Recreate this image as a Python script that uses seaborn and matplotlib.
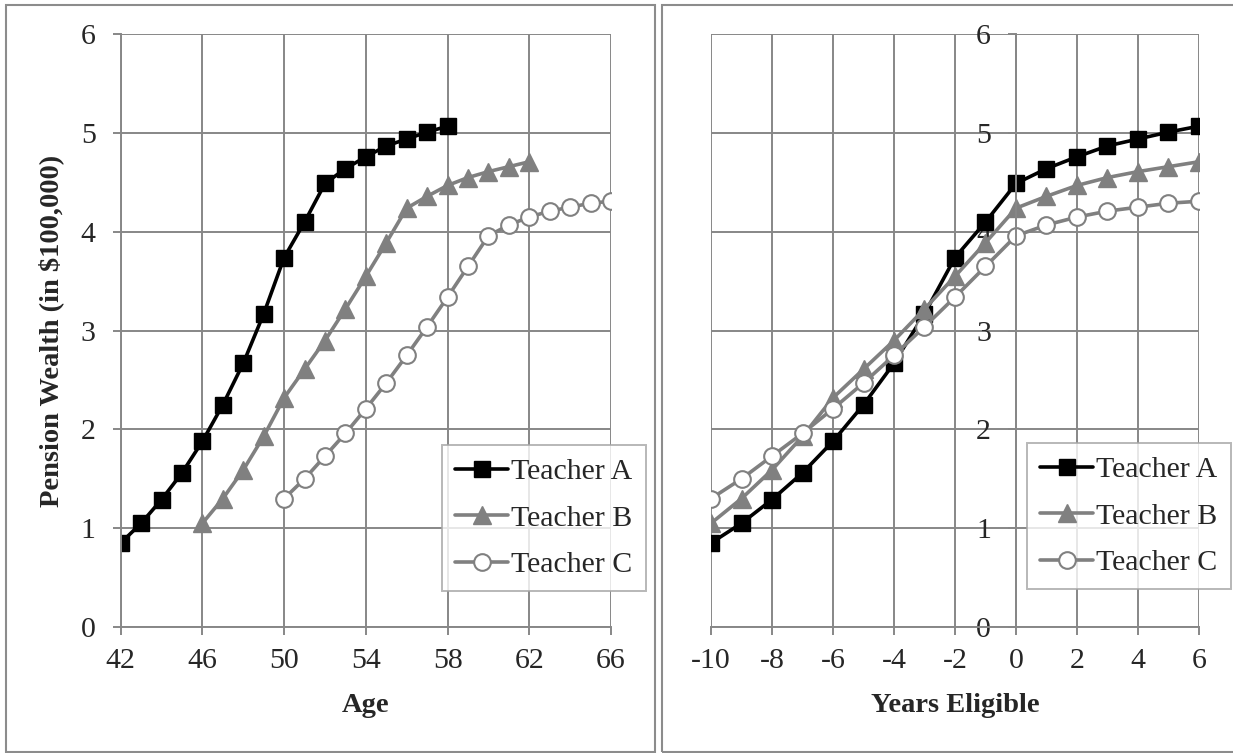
import matplotlib
matplotlib.use("Agg")
import matplotlib.pyplot as plt
from matplotlib.patches import Rectangle
import seaborn as sns

# 数据：三位教师的养老金财富（单位：$100,000）
years_eligible = [-10, -9, -8, -7, -6, -5, -4, -3, -2, -1, 0, 1, 2, 3, 4, 5, 6]
age_a = [42, 43, 44, 45, 46, 47, 48, 49, 50, 51, 52, 53, 54, 55, 56, 57, 58]
age_b = [46, 47, 48, 49, 50, 51, 52, 53, 54, 55, 56, 57, 58, 59, 60, 61, 62]
age_c = [50, 51, 52, 53, 54, 55, 56, 57, 58, 59, 60, 61, 62, 63, 64, 65, 66]

wealth_a = [0.85, 1.05, 1.29, 1.56, 1.88, 2.25, 2.67, 3.17, 3.74, 4.10,
            4.49, 4.64, 4.76, 4.87, 4.94, 5.01, 5.07]
wealth_b = [1.05, 1.30, 1.59, 1.93, 2.32, 2.61, 2.90, 3.22, 3.55, 3.89,
            4.24, 4.36, 4.47, 4.55, 4.61, 4.66, 4.71]
wealth_c = [1.30, 1.50, 1.73, 1.96, 2.21, 2.47, 2.75, 3.04, 3.34, 3.65,
            3.96, 4.07, 4.15, 4.21, 4.25, 4.29, 4.31]

labels = ['Teacher A', 'Teacher B', 'Teacher C']
age_ticks = [42, 46, 50, 54, 58, 62, 66]
year_ticks = [-10, -8, -6, -4, -2, 0, 2, 4, 6]
y_ticks = [0, 1, 2, 3, 4, 5, 6]

# 样式
sns.set_theme(style="white")
plt.rcParams['font.family'] = ['Liberation Serif', 'DejaVu Serif']
grid_grey = '#878787'
line_grey = '#808080'
tick_fs = 21.5
label_fs = 20.5

W, H = 1233, 753
fig = plt.figure(figsize=(W / 100, H / 100), dpi=100)

# 两个面板的外框
fig.patches.append(Rectangle((6 / W, 1 - 752 / H), 649 / W, 747 / H,
                             transform=fig.transFigure, fill=False,
                             edgecolor='#8c8c8c', linewidth=1.5))
fig.patches.append(Rectangle((662 / W, 1 - 752 / H), 575 / W, 747 / H,
                             transform=fig.transFigure, fill=False,
                             edgecolor='#8c8c8c', linewidth=1.5))

ax1 = fig.add_axes([120.7 / W, 1 - 627 / H, 490.3 / W, 592.7 / H])
ax2 = fig.add_axes([711 / W, 1 - 627 / H, 488 / W, 592.7 / H])

series_style = [
    dict(color='black', marker='s', markersize=11.5, markerfacecolor='black',
         markeredgecolor='black', markeredgewidth=1),
    dict(color=line_grey, marker='^', markersize=12.5, markerfacecolor=line_grey,
         markeredgecolor=line_grey, markeredgewidth=1),
    dict(color=line_grey, marker='o', markersize=12, markerfacecolor='white',
         markeredgecolor=line_grey, markeredgewidth=1.5),
]

# 左图：按年龄
for xs, ys, lab, st in zip([age_a, age_b, age_c], [wealth_a, wealth_b, wealth_c],
                           labels, series_style):
    sns.lineplot(x=xs, y=ys, ax=ax1, label=lab, linewidth=2.6, **st)

# 右图：按符合资格年数
for ys, lab, st in zip([wealth_a, wealth_b, wealth_c], labels, series_style):
    sns.lineplot(x=years_eligible, y=ys, ax=ax2, label=lab, linewidth=2.6, **st)

for ax, xt in [(ax1, age_ticks), (ax2, year_ticks)]:
    ax.set_xlim(xt[0], xt[-1])
    ax.set_ylim(0, 6)
    ax.set_xticks(xt)
    ax.set_yticks(y_ticks)
    ax.set_xticklabels([str(v) for v in xt])
    ax.grid(True, color=grid_grey, linewidth=1.4)
    ax.set_axisbelow(True)
    for s in ['top', 'right']:
        ax.spines[s].set_visible(False)
    for s in ['left', 'bottom']:
        ax.spines[s].set_color(grid_grey)
        ax.spines[s].set_linewidth(1.4)
    ax.tick_params(axis='x', direction='out', length=6, width=1.4, color=grid_grey,
                   labelsize=tick_fs, pad=9, bottom=True)
    ax.tick_params(axis='y', direction='out', length=6, width=1.4, color=grid_grey,
                   labelsize=tick_fs, pad=12, left=True)
    for t in ax.get_xticklabels() + ax.get_yticklabels():
        t.set_clip_on(False)

# 右图纵轴穿过 0
ax2.spines['left'].set_position(('data', 0))

ax1.set_xlabel('Age', fontsize=label_fs, fontweight='bold', labelpad=14)
ax2.set_xlabel('Years Eligible', fontsize=label_fs, fontweight='bold', labelpad=14)
ax1.set_ylabel('Pension Wealth (in \\$100,000)', fontsize=label_fs, fontweight='bold',
               labelpad=12)
ax2.set_ylabel('')

# 图例
for ax, (lx, ly) in [(ax1, (442, 445)), (ax2, (1027, 443))]:
    leg = ax.legend(loc='upper left', bbox_to_anchor=(lx / W, 1 - ly / H),
                    bbox_transform=fig.transFigure, borderaxespad=0,
                    fontsize=tick_fs, frameon=True, fancybox=False,
                    handlelength=1.75, handletextpad=0.12, labelspacing=0.65,
                    borderpad=0.45)
    leg.get_frame().set_edgecolor('#a6a6a6')
    leg.get_frame().set_linewidth(1.4)
    leg.set_zorder(10)

fig.savefig('out.png', dpi=100)
